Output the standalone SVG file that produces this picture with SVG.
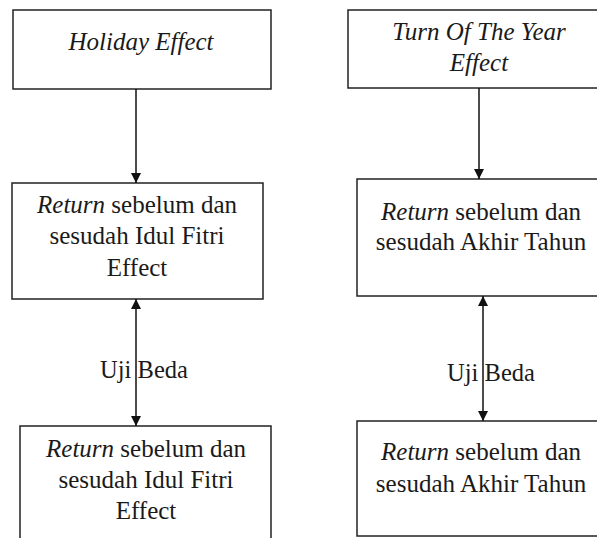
<svg xmlns="http://www.w3.org/2000/svg" width="597" height="538" viewBox="0 0 597 538">
<style>
.box{fill:#fff;stroke:#222;stroke-width:1.5}
.t{font-family:'Liberation Serif','DejaVu Serif',serif;font-size:25px;fill:#1a1a1a;text-anchor:middle}
.i{font-style:italic}
.u{font-size:24.5px}
.ln{stroke:#111;stroke-width:1.5;fill:none}
</style>
<defs>
<marker id="ah" viewBox="0 0 10 10" refX="10" refY="5" markerWidth="10" markerHeight="10" markerUnits="userSpaceOnUse" orient="auto-start-reverse">
<path d="M0,0 L10,5 L0,10 Z" fill="#111"/>
</marker>
</defs>
<g id="holiday">
<rect class="box" x="13" y="10" width="258" height="79"/>
<text class="t i" x="141" y="50">Holiday Effect</text>
</g>
<g id="return-idul-1">
<rect class="box" x="12" y="183" width="251" height="116"/>
<text class="t" x="137" y="213"><tspan class="i">Return</tspan> sebelum dan</text>
<text class="t" x="137" y="244">sesudah Idul Fitri</text>
<text class="t" x="137" y="276">Effect</text>
</g>
<g id="return-idul-2">
<rect class="box" x="20" y="426" width="251" height="130"/>
<text class="t" x="146" y="457"><tspan class="i">Return</tspan> sebelum dan</text>
<text class="t" x="146" y="488">sesudah Idul Fitri</text>
<text class="t" x="146" y="519">Effect</text>
</g>
<g id="turn-of-year">
<rect class="box" x="348" y="10" width="270" height="78"/>
<text class="t i" x="479" y="40">Turn Of The Year</text>
<text class="t i" x="479" y="71">Effect</text>
</g>
<g id="return-akhir-1">
<rect class="box" x="357" y="179" width="260" height="117"/>
<text class="t" x="481" y="220"><tspan class="i">Return</tspan> sebelum dan</text>
<text class="t" x="481" y="250">sesudah Akhir Tahun</text>
</g>
<g id="return-akhir-2">
<rect class="box" x="357" y="421" width="260" height="115"/>
<text class="t" x="481" y="460"><tspan class="i">Return</tspan> sebelum dan</text>
<text class="t" x="481" y="492">sesudah Akhir Tahun</text>
</g>
<g id="connectors">
<line class="ln" x1="136" y1="89" x2="136" y2="183" marker-end="url(#ah)"/>
<line class="ln" x1="136" y1="299" x2="136" y2="426" marker-start="url(#ah)" marker-end="url(#ah)"/>
<line class="ln" x1="479" y1="88" x2="479" y2="179" marker-end="url(#ah)"/>
<line class="ln" x1="483" y1="296" x2="483" y2="421" marker-start="url(#ah)" marker-end="url(#ah)"/>
<text class="t u" x="144" y="378">Uji Beda</text>
<text class="t u" x="491" y="381">Uji Beda</text>
</g>
</svg>
